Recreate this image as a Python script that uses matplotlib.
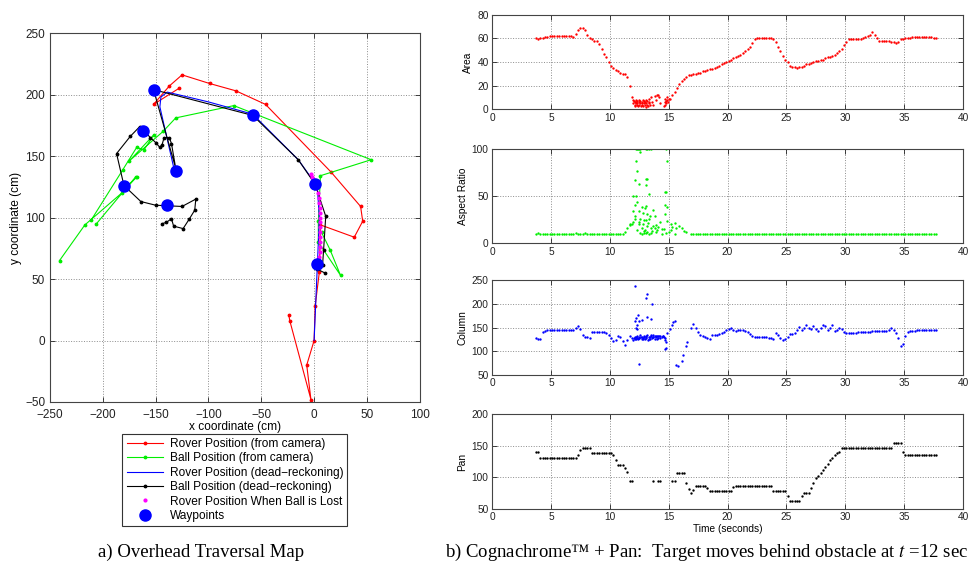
import matplotlib
matplotlib.use('Agg')
import matplotlib.pyplot as plt
import numpy as np

plt.rcParams['font.family'] = ['Liberation Sans', 'DejaVu Sans']
plt.rcParams['mathtext.fontset'] = 'stix'
nan = np.nan

# ---- a) overhead traversal map (cm) ----
rover_cam_x = [-24, -23, -3, -7, 0, 1, 5, 6, 38, 46, 44, 16, -46, -74, -99, -125, -137, -152, -128]
rover_cam_y = [21, 16, -48, -20, 0, 28, 56, 94, 84, 97, 109, 137, 192, 203, 209, 216, 207, 192, 205]

ball_cam_x = [-241, -217, -182, -168, nan, -206, -169, nan,
              -211, -181, -168, -161, -152, -175, -143, -131, -76, 54, 6, 4, 4, 25, 15, 7]
ball_cam_y = [65, 94, 120, 133, nan, 95, 133, nan,
              98, 139, 157, 155, 167, 146, 170, 181, 191, 147, 134, 97, 80, 53, 74, 88]

rover_dr_x = [0, 1, 3, 5, 3, -5, -15, -58, -100, -139, -145, -146, -133]
rover_dr_y = [0, 20, 60, 100, 125, 135, 147, 184, 194, 202, 198, 190, 141]

ball_dr_x = [10, 3, 8, 9, 11, 1, -15, -58, -152, -131, -135, -137, -142, -144, -146, -150, -155,
             -165, -174, -187, -180, -164, -150, -125, -112, -113, -118, -124, -133, -135, -140, -144]
ball_dr_y = [55, 58, 61, 74, 101, 127, 147, 183, 204, 140, 160, 165, 165, 159, 157, 161, 165,
             174, 166, 152, 126, 113, 110, 109, 115, 106, 99, 91, 93, 99, 96, 95]

lost_x = [-3, -2, -1, 0, 1, 2, 4, 5, 5, 6, 6, 6, 6, 6, 6, 6, 6, 6, 6, 5, 5, 5]
lost_y = [135, 133, 131, 129, 127, 124, 120, 116, 112, 108, 104, 100, 96, 92, 88, 84, 80, 76, 72, 68, 64, 60]

waypoint_x = [-152, -58, -162, -131, -180, -139, 1, 3]
waypoint_y = [204, 183, 170, 138, 126, 110, 127, 62]

# ---- b) Cognachrome + pan, sampled every 0.2 s from 3.7 s ----
time = np.round(np.arange(3.7, 37.75, 0.2), 1)

area = [60, 59, 60, 60, 61,  61, 62, 62, 62, 62,  62, 62, 62, 62, 62,  62, 61, 64, 67, 69,
        69, 67, 63, 60, 59,  58, 58, 55, 51, 47,  44, 40, 37, 35, 33,  32, 31, 30, 30, 27,
        20, 10, nan, nan, nan,  nan, nan, nan, nan, nan,  nan, nan, nan, nan, nan,  nan, nan, 9, 12, 15,
        18, 21, 24, 26, 27,  29, 29, 30, 30, 31,  31, 32, 32, 33, 34,  34, 35, 36, 37, 38,
        39, 40, 41, 42, 43,  44, 45, 46, 48, 49,  51, 53, 56, 59, 60,  60, 60, 60, 60, 60,
        60, 59, 57, 53, 49,  45, 42, 40, 37, 36,  36, 35, 36, 36, 37,  38, 38, 39, 40, 41,
        41, 42, 42, 43, 44,  44, 45, 46, 48, 49,  51, 54, 57, 59, 59,  59, 59, 59, 59, 60,
        61, 62, 63, 65, 63,  60, 58, 58, 58, 58,  58, 57, 57, 56, 57,  59, 59, 60, 60, 60,
        61, 61, 61, 61, 61,  61, 61, 61, 61, 60,  60]
area_cl_t = [11.95, 12.0, 12.05, 12.1, 12.1, 12.15, 12.2, 12.2, 12.25, 12.3, 12.3, 12.35, 12.4, 12.45, 12.5,
             12.5, 12.55, 12.6, 12.65, 12.7, 12.7, 12.75, 12.8, 12.85, 12.9, 12.9, 12.95, 13.0, 13.05, 13.1,
             13.1, 13.15, 13.2, 13.25, 13.3, 13.3, 13.35, 13.4, 13.5, 13.6, 13.7, 13.8, 13.9, 14.0, 14.1,
             14.2, 14.3, 14.6, 14.65, 14.7, 14.7, 14.75, 14.8, 14.85, 14.9, 14.95, 15.0]
area_cl_v = [8, 5, 7, 4, 6, 3, 5, 8, 6, 4, 7, 5, 3, 6, 4,
             8, 5, 7, 3, 6, 4, 5, 8, 3, 5, 7, 4, 6, 2, 5,
             8, 4, 7, 3, 6, 9, 5, 4, 10, 6, 4, 11, 8, 12, 12,
             10, 5, 3, 6, 9, 4, 7, 5, 10, 8, 6, 9]

aspect = [10, 11, 10, 10, 10,  10, 10, 10, 10, 10,  10, 10, 10, 10, 10,  10, 10, 11, 10, 10,
          10, 11, 10, 10, 10,  10, 10, 10, 10, 10,  10, 10, 10, 10, 10,  10, 10, 10, 12, 16,
          20, nan, nan, nan, nan,  nan, nan, nan, nan, nan,  nan, nan, nan, nan, nan,  nan, nan, nan, nan, nan,
          nan, 18, 16, 13, 12,  nan, 10, 10, 10, 10] + [10] * 100 + [10]
aspect_cl = [(12.2, 100), (12.3, 100), (12.4, 100), (12.5, 100), (12.6, 100), (13.1, 100), (13.2, 100),
             (13.35, 100), (13.5, 100), (14.75, 100), (12.6, 96), (12.2, 87), (12.35, 76), (12.14, 67),
             (12.44, 63), (13.05, 68), (13.2, 68), (13.05, 62), (13.35, 52), (12.0, 50), (12.2, 50),
             (14.7, 54), (14.8, 54), (14.87, 87), (12.35, 44), (12.14, 40), (12.75, 38), (13.0, 37),
             (13.65, 35), (12.44, 34), (13.2, 31), (13.4, 29), (12.0, 34), (12.1, 29), (12.6, 26),
             (12.9, 25), (13.35, 26), (13.8, 29), (14.7, 40), (14.87, 38), (14.7, 31), (14.9, 24),
             (15.2, 20), (15.5, 21), (15.6, 16), (15.5, 10), (14.3, 22), (14.4, 15), (14.1, 17),
             (13.95, 12), (13.65, 18), (13.5, 16), (13.2, 18), (12.9, 13), (12.7, 16), (12.44, 20),
             (12.3, 14), (11.85, 20), (11.7, 19), (13.05, 11), (13.3, 10), (12.75, 10), (12.6, 11),
             (13.5, 11), (14.4, 10), (15.0, 12), (15.2, 14), (14.8, 11), (14.6, 15), (15.3, 17),
             (13.95, 19), (13.05, 25), (12.8, 32), (13.1, 39), (12.9, 11), (13.0, 14), (13.15, 12),
             (12.5, 22), (12.8, 20), (13.6, 13), (13.8, 16), (14.0, 14), (12.15, 26), (12.0, 22), (13.25, 21)]

column = [128, 127, 126, 140, 143,  144, 144, 145, 145, 145,  145, 145, 145, 145, 145,  145, 146, 150, 154, 148,
          135, 130, 130, 128, 140,  141, 141, 140, 140, 140,  138, 135, 128, 121, 124,  132, 131, 122, 113, 124,
          132, 128, 127, 129, 130,  130, 131, 130, 131, 132,  131, 132, 133, 132, 133,  128, 138, 148, 156, 165,
          nan, nan, nan, nan, nan,  nan, 150, 157, 150, 140,  135, 133, 131, 128, 127,  135, 134, 134, 136, 138,
          141, 144, 147, 150, 144,  143, 145, 146, 145, 143,  140, 137, 133, 130, 130,  131, 131, 130, 130, 129,
          128, 127, 138, 135, 128,  124, 125, 130, 136, 137,  139, 145, 152, 145, 150,  155, 150, 147, 154, 148,
          143, 150, 155, 154, 146,  150, 155, 143, 146, 150,  148, 140, 138, 138, 139,  139, 139, 140, 140, 140,
          141, 141, 141, 142, 142,  142, 142, 142, 143, 143,  146, 150, 144, 138, 128,  112, 115, 132, 141, 142,
          142, 143, 144, 145, 146,  146, 146, 145, 144, 144,  145]
column_cl = [(12.0, 124), (12.1, 130), (12.2, 126), (12.3, 133), (12.4, 125), (12.5, 129), (12.6, 134),
             (12.7, 126), (12.8, 128), (12.9, 133), (13.0, 125), (13.1, 129), (13.2, 135), (13.3, 127),
             (13.4, 130), (13.5, 134), (13.6, 128), (13.7, 131), (13.8, 127), (13.9, 130), (14.0, 133),
             (14.1, 129), (14.2, 132), (14.3, 128), (14.4, 131), (14.5, 133), (14.6, 130), (14.7, 124),
             (14.75, 120), (12.05, 128), (12.25, 131), (12.45, 128), (12.65, 130), (12.85, 125),
             (13.05, 132), (13.25, 124), (13.45, 127), (13.65, 134), (13.85, 133), (14.05, 126),
             (12.1, 238), (12.4, 177), (12.25, 170), (12.1, 163), (12.44, 163), (12.75, 167), (13.2, 172),
             (13.5, 169), (13.05, 212), (13.2, 222), (13.6, 199), (12.44, 74), (14.7, 105), (14.8, 106),
             (12.35, 155), (12.2, 150), (12.3, 147), (15.6, 71), (15.8, 68), (16.1, 80), (16.2, 92),
             (16.5, 111), (16.6, 119), (15.4, 162)]

pan = [140, 140, 131, 131, 131,  131, 131, 131, 131, 131,  131, 131, 131, 131, 131,  131, 131, 131, 135, 143,
       147, 147, 147, 147, 139,  139, 139, 139, 139, 139,  139, 139, 139, 135, 127,  120, 119, 119, 115, 108,
       95, 95, nan, nan, nan,  nan, nan, nan, nan, nan,  95, nan, 95, 95, nan,  nan, nan, nan, 95, 95,
       107, 107, 107, 107, 91,  82, 76, 80, 87, 87,  87, 87, 87, 83, 79,  79, 79, 79, 79, 79,
       79, 79, 79, 79, 85,  87, 87, 87, 87, 87,  87, 87, 87, 87, 87,  87, 87, 87, 87, 87,
       87, 79, 79, 79, 79,  79, 79, 70, 63, 63,  63, 63, 63, 70, 75,  75, 75, 83, 91, 99,
       103, 107, 111, 116, 121,  127, 131, 136, 139, 140,  146, 147, 147, 147, 147,  147, 147, 147, 147, 147,
       147, 147, 147, 147, 147,  147, 147, 147, 147, 147,  147, 147, 155, 155, 155,  155, 140, 135, 135, 135,
       135, 135, 135, 135, 135,  135, 135, 135, 135, 135,  135]


def matlab_style(ax, fs):
    ax.grid(True, linestyle=':', color='#8c8c8c', linewidth=0.7)
    ax.tick_params(direction='in', top=True, right=True, labelsize=fs,
                   length=3.5, width=0.6, pad=2.5, colors='#222222')
    for s in ax.spines.values():
        s.set_linewidth(0.8)
        s.set_color('#444444')


fig = plt.figure(figsize=(9.73, 5.65), dpi=100)

# left: map
ax = fig.add_axes([0.0514, 0.2885, 0.380, 0.653])
dot = dict(marker='.', markersize=3.5, linewidth=0.8)
h1, = ax.plot(rover_cam_x, rover_cam_y, color='#ff0000', label='Rover Position (from camera)', **dot)
h2, = ax.plot(ball_cam_x, ball_cam_y, color='#00ee00', label='Ball Position (from camera)', **dot)
h3, = ax.plot(rover_dr_x, rover_dr_y, color='#0000ff', linewidth=0.8, label='Rover Position (dead\u2212reckoning)')
h4, = ax.plot(ball_dr_x, ball_dr_y, color='black', label='Ball Position (dead\u2212reckoning)', **dot)
h5, = ax.plot(lost_x, lost_y, linestyle='none', marker='.', markersize=4, color='#ff00ff',
              label='Rover Position When Ball is Lost')
h6, = ax.plot(waypoint_x, waypoint_y, linestyle='none', marker='o', markersize=8, color='#0000ff',
              label='Waypoints')
ax.set_xlim(-250, 100)
ax.set_ylim(-50, 250)
ax.set_xticks(np.arange(-250, 101, 50))
ax.set_yticks(np.arange(-50, 251, 50))
ax.set_xlabel('x coordinate (cm)', fontsize=8.6, labelpad=0)
ax.set_ylabel('y coordinate (cm)', fontsize=8.6, labelpad=2)
matlab_style(ax, 8.5)
ax.tick_params(axis='x', pad=5)
ax.tick_params(axis='y', pad=3.5)
leg = ax.legend(handles=[h1, h2, h3, h4, h5, h6], loc='upper center',
                bbox_to_anchor=(0.2415, 0.232), bbox_transform=fig.transFigure,
                fontsize=8.6, fancybox=False, edgecolor='#333333', framealpha=1,
                handlelength=3.0, labelspacing=0.2, borderpad=0.35, handletextpad=0.6,
                borderaxespad=0)
leg.get_frame().set_linewidth(0.8)

fig.text(201 / 973, 1 - 552 / 565, 'a) Overhead Traversal Map', ha='center', va='center',
         family='Liberation Serif', fontsize=13.5)

# right: four time series
panels = [
    (0.8065, area, (area_cl_t, area_cl_v), '#ff0000', 'Area', (0, 80), [0, 20, 40, 60, 80]),
    (0.5694, aspect, tuple(zip(*aspect_cl)), '#00ee00', 'Aspect Ratio', (0, 100), [0, 50, 100]),
    (0.3363, column, tuple(zip(*column_cl)), '#0000ff', 'Column', (50, 250), [50, 100, 150, 200, 250]),
    (0.0991, pan, None, 'black', 'Pan', (50, 200), [50, 100, 150, 200]),
]
for bottom, values, extra, color, label, ylim, yticks in panels:
    axr = fig.add_axes([0.5057, bottom, 0.484, 0.1676])
    axr.plot(time, values, linestyle='none', marker='o', markersize=1.7, markeredgewidth=0, color=color)
    if extra is not None:
        axr.plot(extra[0], extra[1], linestyle='none', marker='o', markersize=1.7,
                 markeredgewidth=0, color=color)
    axr.set_xlim(0, 40)
    axr.set_ylim(*ylim)
    axr.set_xticks(np.arange(0, 41, 5))
    axr.set_yticks(yticks)
    axr.set_ylabel(label, fontsize=7.3, labelpad=3)
    matlab_style(axr, 7.3)
    if label == 'Pan':
        axr.set_xlabel('Time (seconds)', fontsize=7.3, labelpad=1)

fig.text(707 / 973, 1 - 552 / 565, 'b) Cognachrome\u2122 + Pan:  Target moves behind obstacle at $t$ =12 sec',
         ha='center', va='center', family='Liberation Serif', fontsize=13.5)

fig.savefig('out.png', dpi=100)
